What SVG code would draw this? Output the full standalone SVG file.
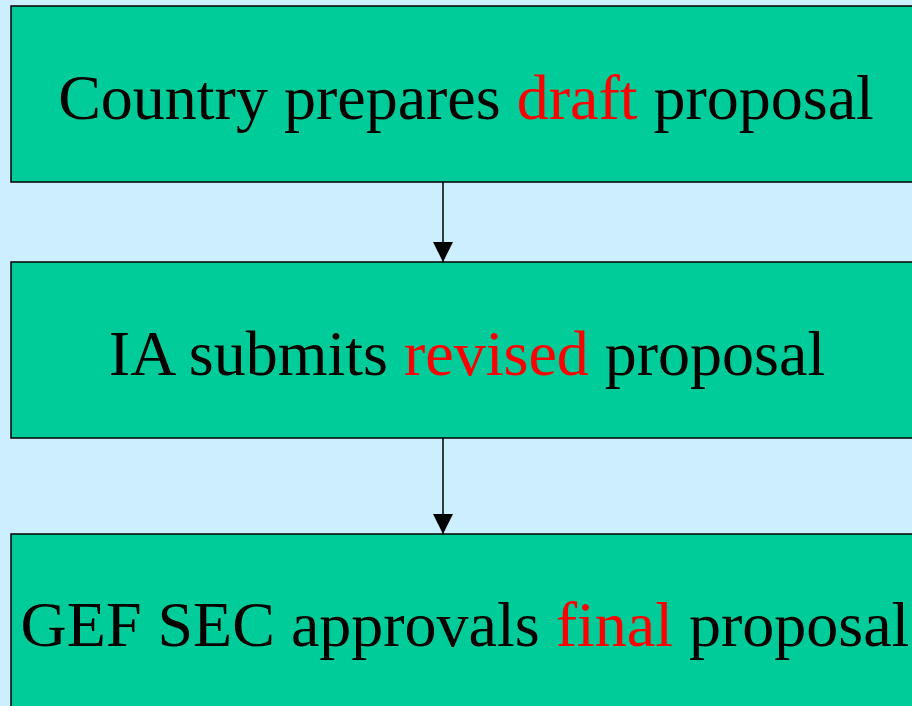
<svg xmlns="http://www.w3.org/2000/svg" width="912" height="706" viewBox="0 0 912 706">
<style>
.box{fill:#00cc99;stroke:#000;stroke-width:1.5}
.t{font-family:"Liberation Serif","Times New Roman",serif;font-size:64px;fill:#000;text-anchor:middle}
.r{fill:#ff0000}
.c{stroke:#000;stroke-width:1.5;fill:none}
</style>
<defs>
<marker id="ah" markerUnits="userSpaceOnUse" markerWidth="20" markerHeight="20" refX="20" refY="10" orient="auto" viewBox="0 0 20 20">
<path d="M0,0 L20,10 L0,20 Z" fill="#000"/>
</marker>
</defs>
<rect width="912" height="706" fill="#cceeff"/>
<g id="connectors">
<line class="c" x1="443" y1="182" x2="443" y2="262" marker-end="url(#ah)"/>
<line class="c" x1="443" y1="438" x2="443" y2="534" marker-end="url(#ah)"/>
</g>
<g id="node1">
<rect class="box" x="11" y="6" width="920" height="176"/>
<text class="t" x="466" y="119">Country prepares <tspan class="r">draft</tspan> proposal</text>
</g>
<g id="node2">
<rect class="box" x="11" y="262" width="920" height="176"/>
<text class="t" x="467" y="375">IA submits <tspan class="r">revised</tspan> proposal</text>
</g>
<g id="node3">
<rect class="box" x="11" y="534" width="920" height="200"/>
<text class="t" x="465" y="646">GEF SEC approvals <tspan class="r">final</tspan> proposal</text>
</g>
</svg>
